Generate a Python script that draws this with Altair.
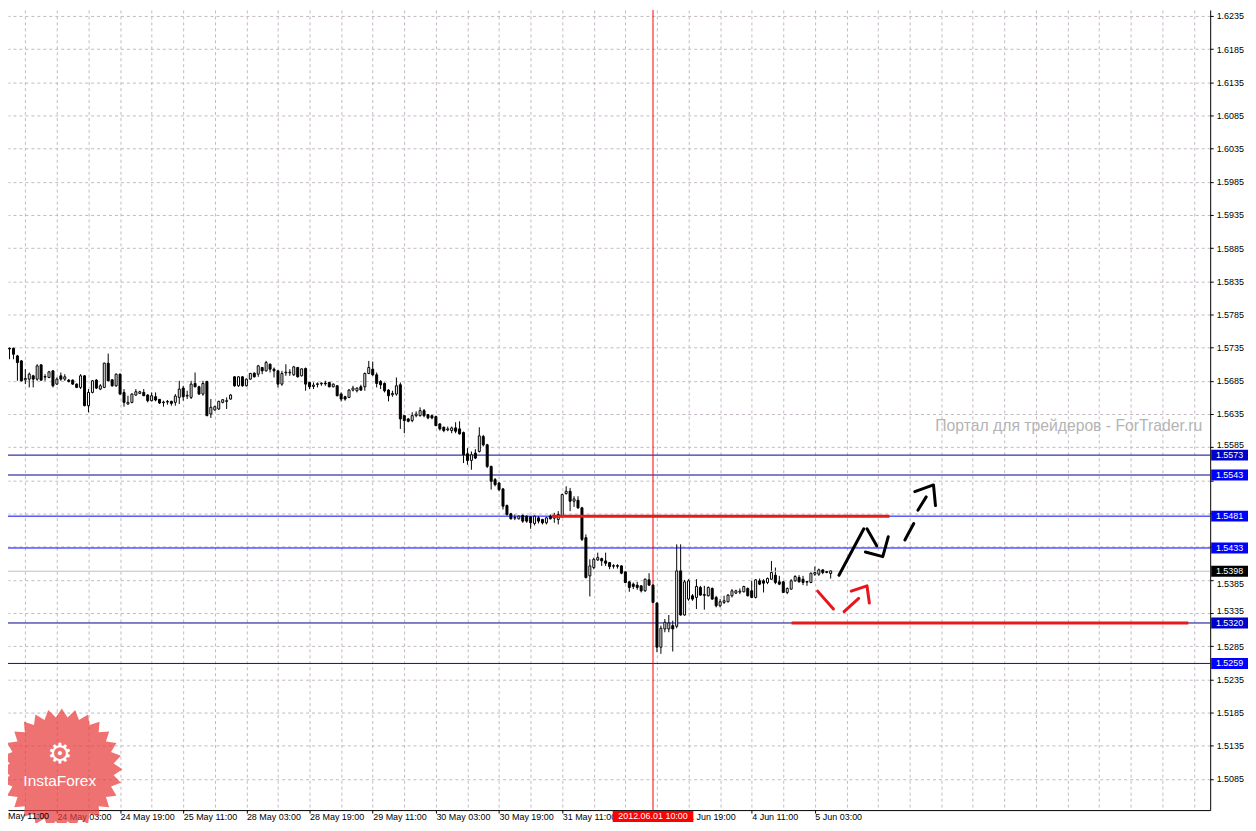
import math
import json
import altair as alt
import pandas as pd

# ---------------- data (H1 candles, bar index 0 = first visible bar) ----------------
OPEN = [
    1.57225, 1.5734, 1.5734, 1.57225, 1.5715, 1.56865, 1.56875, 1.56925, 1.56875, 1.5709,
    1.56905, 1.5690, 1.5700, 1.5680, 1.56925, 1.56875, 1.5686, 1.5686, 1.5680, 1.5675,
    1.56925, 1.56475, 1.56675, 1.5686, 1.56725, 1.5675, 1.57115, 1.56865, 1.56775, 1.5695,
    1.56675, 1.5650, 1.56525, 1.56635, 1.5666, 1.56675, 1.56635, 1.5655, 1.5661, 1.5657,
    1.5652, 1.5653, 1.5654, 1.56525, 1.5660, 1.5674, 1.5662, 1.5660, 1.5681, 1.5676,
    1.5665, 1.5684, 1.5635, 1.5641, 1.56425, 1.56525, 1.5654, 1.56575, 1.5691, 1.56775,
    1.5691, 1.56775, 1.56875, 1.56965, 1.5695, 1.5705, 1.5700, 1.5710, 1.57025, 1.5700,
    1.5680, 1.5697, 1.5697, 1.5694, 1.5705, 1.56925, 1.57035, 1.56825, 1.56765, 1.56795,
    1.56805, 1.56815, 1.56825, 1.5676, 1.56775, 1.5665, 1.5661, 1.5660, 1.5671, 1.5670,
    1.5676, 1.5676, 1.5696, 1.57025, 1.5694, 1.5684, 1.5681, 1.5671, 1.5664, 1.5665,
    1.5679, 1.56325, 1.56275, 1.5625, 1.56325, 1.56325, 1.5640, 1.5634, 1.56325, 1.5631,
    1.5620, 1.5615, 1.5611, 1.5610, 1.5614, 1.56125, 1.5607, 1.5575, 1.5565, 1.5576,
    1.55785, 1.5601, 1.55885, 1.5556, 1.5536, 1.5531, 1.5522, 1.5497, 1.54845, 1.5478,
    1.5477, 1.5482, 1.5481, 1.5480, 1.5470, 1.54785, 1.5476, 1.5471, 1.5481, 1.5478,
    1.5476, 1.5481, 1.5515, 1.55185, 1.55035, 1.5505, 1.54935, 1.54485, 1.5391, 1.54035,
    1.5415, 1.5417, 1.54135, 1.5411, 1.54055, 1.54065, 1.5406, 1.5397, 1.5382, 1.53785,
    1.5377, 1.5376, 1.53685, 1.5385, 1.5377, 1.5350, 1.52835, 1.5311, 1.5311, 1.5316,
    1.5315, 1.53985, 1.5332, 1.5356, 1.5361, 1.53585, 1.53735, 1.53615, 1.5361, 1.5372,
    1.53585, 1.5346, 1.5351, 1.5352, 1.5361, 1.5365, 1.53665, 1.5367, 1.5372, 1.53685,
    1.53585, 1.53835, 1.53835, 1.5381, 1.5386, 1.5392, 1.5382, 1.5382, 1.5366, 1.5371,
    1.53835, 1.53885, 1.5386, 1.53815, 1.5381, 1.53935, 1.53935, 1.5400, 1.5396, 1.53945,
]
HIGH = [
    1.5736, 1.5735, 1.5735, 1.5724, 1.5716, 1.57025, 1.56975, 1.5694, 1.5710, 1.5710,
    1.5695, 1.5700, 1.5701, 1.5690, 1.56975, 1.5695, 1.56875, 1.5687, 1.5681, 1.5695,
    1.56935, 1.56725, 1.5686, 1.56875, 1.5680, 1.57125, 1.5726, 1.56875, 1.5696, 1.5696,
    1.56725, 1.56625, 1.5666, 1.56725, 1.5670, 1.56725, 1.5665, 1.56675, 1.56675, 1.56575,
    1.5655, 1.5656, 1.5655, 1.5665, 1.5685, 1.56775, 1.5670, 1.5685, 1.56975, 1.56775,
    1.5685, 1.5685, 1.56575, 1.56475, 1.5655, 1.56575, 1.5660, 1.5665, 1.5692, 1.5692,
    1.5692, 1.56885, 1.5697, 1.56975, 1.5709, 1.5706, 1.5715, 1.5711, 1.5705, 1.5701,
    1.5700, 1.5710, 1.57025, 1.57075, 1.5706, 1.57035, 1.5705, 1.56835, 1.56825, 1.56825,
    1.56825, 1.5685, 1.56835, 1.5681, 1.56785, 1.56675, 1.56625, 1.56725, 1.56775, 1.5675,
    1.5679, 1.56975, 1.5715, 1.5714, 1.56975, 1.5686, 1.56825, 1.56725, 1.5670, 1.5690,
    1.56825, 1.56325, 1.5629, 1.56375, 1.5639, 1.5645, 1.56425, 1.5635, 1.5634, 1.56325,
    1.5621, 1.5616, 1.5616, 1.5616, 1.56225, 1.5624, 1.56085, 1.55835, 1.55785, 1.5582,
    1.5615, 1.56035, 1.5590, 1.5557, 1.55385, 1.5532, 1.55235, 1.54985, 1.5486, 1.54835,
    1.5482, 1.54835, 1.5482, 1.5481, 1.5482, 1.5481, 1.5477, 1.5480, 1.54835, 1.5486,
    1.54885, 1.5515, 1.5526, 1.55235, 1.5511, 1.5511, 1.5495, 1.54535, 1.5416, 1.54185,
    1.5426, 1.54185, 1.5426, 1.5412, 1.54085, 1.54085, 1.5407, 1.5398, 1.5383, 1.5381,
    1.5382, 1.5377, 1.5387, 1.5395, 1.53785, 1.5351, 1.5316, 1.5326, 1.5332, 1.53235,
    1.54385, 1.54385, 1.5385, 1.5386, 1.53635, 1.5386, 1.5376, 1.5376, 1.5375, 1.53735,
    1.5361, 1.5356, 1.5361, 1.53635, 1.5371, 1.5370, 1.5372, 1.5376, 1.53735, 1.53835,
    1.5386, 1.5387, 1.5386, 1.53885, 1.54135, 1.54035, 1.5391, 1.53835, 1.53735, 1.5386,
    1.5392, 1.5392, 1.5391, 1.53835, 1.5396, 1.5405, 1.5402, 1.5401, 1.53985, 1.53985,
]
LOW = [
    1.5721, 1.57175, 1.57175, 1.5685, 1.5684, 1.5680, 1.5675, 1.5675, 1.5685, 1.5685,
    1.5685, 1.5689, 1.5675, 1.5679, 1.5685, 1.5685, 1.56825, 1.5679, 1.5674, 1.56725,
    1.56465, 1.56375, 1.5666, 1.56725, 1.5671, 1.5674, 1.5684, 1.5676, 1.5676, 1.5664,
    1.5646, 1.5649, 1.5651, 1.56625, 1.5665, 1.5662, 1.56525, 1.5654, 1.5654, 1.5650,
    1.5646, 1.5649, 1.56475, 1.56475, 1.5650, 1.5655, 1.56575, 1.56575, 1.5675, 1.5664,
    1.56625, 1.56315, 1.5629, 1.5640, 1.5641, 1.5651, 1.56425, 1.56565, 1.5676, 1.5676,
    1.5676, 1.56765, 1.56865, 1.5690, 1.5691, 1.5695, 1.5699, 1.56975, 1.5690, 1.5675,
    1.56775, 1.56925, 1.56925, 1.56925, 1.5690, 1.56915, 1.5670, 1.56725, 1.56725, 1.5675,
    1.56775, 1.56775, 1.5675, 1.5675, 1.56615, 1.5654, 1.5655, 1.5659, 1.5669, 1.56675,
    1.5670, 1.5670, 1.5695, 1.56925, 1.5675, 1.56725, 1.56675, 1.5654, 1.5661, 1.56625,
    1.56125, 1.5606, 1.56225, 1.56225, 1.5630, 1.5631, 1.5630, 1.5627, 1.5627, 1.56165,
    1.5610, 1.56075, 1.5609, 1.5606, 1.5606, 1.5604, 1.5561, 1.55585, 1.5551, 1.5567,
    1.5577, 1.5586, 1.55535, 1.5521, 1.5526, 1.55185, 1.5491, 1.5482, 1.5476, 1.5475,
    1.5476, 1.5471, 1.5471, 1.5462, 1.5467, 1.5470, 1.54685, 1.54685, 1.5476, 1.5471,
    1.54685, 1.54785, 1.55135, 1.54885, 1.5495, 1.5492, 1.54435, 1.5387, 1.5360, 1.5401,
    1.54135, 1.5406, 1.5406, 1.5401, 1.5402, 1.5402, 1.53935, 1.5380, 1.5367, 1.5371,
    1.5370, 1.5366, 1.5367, 1.5376, 1.5350, 1.5276, 1.52735, 1.5306, 1.5306, 1.5277,
    1.5312, 1.5331, 1.5331, 1.53535, 1.53535, 1.5341, 1.5361, 1.5340, 1.5360, 1.5355,
    1.53435, 1.53435, 1.53485, 1.5351, 1.53585, 1.53635, 1.53635, 1.5366, 1.5360, 1.53575,
    1.5357, 1.5377, 1.5366, 1.53785, 1.5385, 1.53785, 1.5377, 1.5365, 1.53635, 1.5370,
    1.5382, 1.5381, 1.5377, 1.5376, 1.5380, 1.5391, 1.5391, 1.53935, 1.5395, 1.5387,
]
CLOSE = [
    1.57325, 1.5733, 1.5725, 1.57125, 1.5685, 1.56885, 1.5695, 1.56875, 1.57075, 1.5686,
    1.56915, 1.56985, 1.56775, 1.56875, 1.56875, 1.5691, 1.5684, 1.5680, 1.5675, 1.56925,
    1.56475, 1.56675, 1.5685, 1.5674, 1.56775, 1.57115, 1.5685, 1.56775, 1.5695, 1.5665,
    1.56525, 1.56525, 1.5665, 1.56685, 1.56685, 1.56625, 1.5655, 1.56625, 1.5656, 1.56515,
    1.5653, 1.5654, 1.5651, 1.5662, 1.56725, 1.5661, 1.5663, 1.5680, 1.5676, 1.5665,
    1.5681, 1.56325, 1.5645, 1.5646, 1.5654, 1.56565, 1.5655, 1.56635, 1.56775, 1.5691,
    1.56775, 1.56875, 1.5696, 1.5691, 1.57075, 1.5700, 1.57125, 1.57025, 1.5700, 1.5680,
    1.5696, 1.5698, 1.5698, 1.5706, 1.5691, 1.5703, 1.5680, 1.5676, 1.56785, 1.56805,
    1.56815, 1.56805, 1.5676, 1.5680, 1.56625, 1.56575, 1.56575, 1.5671, 1.5674, 1.5674,
    1.5671, 1.5696, 1.5705, 1.5694, 1.5681, 1.5679, 1.5670, 1.56625, 1.5666, 1.56775,
    1.56275, 1.5625, 1.5624, 1.56325, 1.5635, 1.5640, 1.56325, 1.5629, 1.5629, 1.56175,
    1.56125, 1.5610, 1.56125, 1.5614, 1.5609, 1.5605, 1.55735, 1.5565, 1.55735, 1.55685,
    1.5602, 1.55885, 1.5556, 1.55335, 1.55285, 1.5521, 1.5496, 1.54835, 1.5477, 1.5479,
    1.5481, 1.54735, 1.54735, 1.5471, 1.5481, 1.54735, 1.5471, 1.54785, 1.5477, 1.5481,
    1.54835, 1.55135, 1.55185, 1.55035, 1.5507, 1.54935, 1.5446, 1.53885, 1.5406, 1.5416,
    1.54185, 1.54135, 1.5410, 1.5405, 1.54065, 1.54055, 1.5395, 1.5381, 1.53735, 1.5375,
    1.53735, 1.53685, 1.5386, 1.5377, 1.5351, 1.52835, 1.5312, 1.5321, 1.5320, 1.5311,
    1.53985, 1.5332, 1.5382, 1.53835, 1.5356, 1.5375, 1.5362, 1.5363, 1.53735, 1.5356,
    1.5346, 1.5352, 1.53535, 1.5362, 1.53685, 1.53685, 1.5368, 1.5375, 1.5361, 1.53585,
    1.5385, 1.53785, 1.5380, 1.5387, 1.5396, 1.5381, 1.53785, 1.5366, 1.5372, 1.53835,
    1.5390, 1.5382, 1.5381, 1.53825, 1.5395, 1.5396, 1.5400, 1.5396, 1.53975, 1.53985,
]

# time axis labels (one every 16 bars, starting at bar 13); grid every 8 bars from bar 5.
# The label at "1 Jun 03:00" is hidden under the crosshair time tag, so it is left empty.
TIME_LABELS = ["24 May 03:00", "24 May 19:00", "25 May 11:00", "28 May 03:00", "28 May 19:00",
               "29 May 11:00", "30 May 03:00", "30 May 19:00", "31 May 11:00", "",
               "1 Jun 19:00", "4 Jun 11:00", "5 Jun 03:00"]
FIRST_LABEL_VISIBLE = "May 11:00"   # "23 May 11:00", cut at the left edge
LABEL_START_BAR = 13
LABEL_STEP = 16
GRID_START_BAR = 5
GRID_STEP = 8
LAST_GRID_BAR = 301

PRICE_TICKS = [1.5035, 1.5085, 1.5135, 1.5185, 1.5235, 1.5285, 1.5335, 1.5385, 1.5435,
               1.5485, 1.5535, 1.5585, 1.5635, 1.5685, 1.5735, 1.5785, 1.5835, 1.5885,
               1.5935, 1.5985, 1.6035, 1.6085, 1.6135, 1.6185, 1.6235]

# horizontal levels with price tags on the right axis
DARK_LEVELS = [1.5573, 1.5320]
DARKLINE_BRIGHTBOX_LEVELS = [1.5543]
BRIGHT_LEVELS = [1.5481, 1.5433, 1.5259]
BID = 1.5398

# crosshair
CROSSHAIR_BAR = 164
CROSSHAIR_LABEL = "2012.06.01 10:00"

# red drawn levels
RED_LEVEL_PRICES = [1.5481, 1.5320]
RED_LEVEL_START = [138.4, 199.1]
RED_LEVEL_END = [223.9, 299.6]

# hand-drawn forecast strokes (bar, price)
BLACK_STROKES = [
    [(211.1, 1.5392), (217.4, 1.5462)],
    [(218.2, 1.5462), (220.7, 1.5436)],
    [(217.8, 1.5427), (222.2, 1.5420), (223.6, 1.5450)],
    [(227.8, 1.5445), (230.05, 1.5470)],
    [(231.1, 1.5490), (233.2, 1.5510)],
    [(230.3, 1.5518), (235.05, 1.5528), (235.55, 1.5497)],
]
RED_STROKES = [
    [(205.7, 1.5368), (209.7, 1.5341)],
    [(212.4, 1.5337), (216.1, 1.5357)],
    [(214.2, 1.5368), (218.2, 1.5376), (218.8, 1.5350)],
]

WATERMARK = "Портал для трейдеров - ForTrader.ru"
LOGO_TEXT = "InstaForex"

# ---------------- layout ----------------
W, H = 1208, 804
X_DOMAIN = [1.875, 303.875]
Y_DOMAIN = [1.503798, 1.624391]
FONT = "Liberation Sans"
FS = 9
GRID = "#c4b8c4"
DARK_BLUE = "#00008b"
DARK_BOX = "#0000c8"
BLUE = "#0000ff"

xs = alt.Scale(domain=X_DOMAIN, nice=False, zero=False)
ys = alt.Scale(domain=Y_DOMAIN, nice=False, zero=False)

n = len(OPEN)
candles = pd.DataFrame({"bar": list(range(n)), "open": OPEN, "high": HIGH,
                        "low": LOW, "close": CLOSE})
candles["fill"] = ["white" if c >= o else "black" for o, c in zip(OPEN, CLOSE)]

last_label_bar = LABEL_START_BAR + LABEL_STEP * (len(TIME_LABELS) - 1)
is_label = (f"((datum.value - {LABEL_START_BAR}) % {LABEL_STEP} == 0 && "
            f"datum.value >= {LABEL_START_BAR} && datum.value <= {last_label_bar})")
label_expr = (f"{is_label} ? {json.dumps(TIME_LABELS)}"
              f"[(datum.value - {LABEL_START_BAR}) / {LABEL_STEP}] : ''")

ALL_TAGS = DARK_LEVELS + DARKLINE_BRIGHTBOX_LEVELS + BRIGHT_LEVELS + [BID]
hide_cond = " || ".join(f"abs(datum.value - {p}) < 0.0009" for p in ALL_TAGS)
above_cond = " || ".join(f"(datum.value - {p} > 0 && datum.value - {p} < 0.0017)" for p in ALL_TAGS)
below_cond = " || ".join(f"({p} - datum.value > 0 && {p} - datum.value < 0.0017)" for p in ALL_TAGS)

X_AXIS = alt.Axis(
    orient="bottom", values=list(range(GRID_START_BAR, LAST_GRID_BAR + 1, GRID_STEP)),
    grid=True, gridColor=GRID, gridDash=[3, 3], gridWidth=1,
    domain=True, domainColor="black", domainWidth=1,
    ticks=True, tickColor="black", tickSize=3, tickWidth=1,
    tickOpacity={"condition": {"test": is_label, "value": 1}, "value": 0},
    labelExpr=label_expr, labelAlign="left", labelBaseline="alphabetic",
    labelPadding=6, labelFont=FONT, labelFontSize=FS, labelColor="black",
    labelOverlap=False, labelFlush=False, labelBound=False, title=None,
)
Y_AXIS = alt.Axis(
    orient="right", values=PRICE_TICKS, format=".4f",
    grid=True, gridColor=GRID, gridDash=[3, 3], gridWidth=1,
    domain=True, domainColor="black", domainWidth=1,
    ticks=True, tickColor="black", tickSize=3, tickWidth=1,
    labelPadding=3, labelFont=FONT, labelFontSize=FS, labelColor="black",
    labelAlign="left",
    labelBaseline={"condition": [{"test": above_cond, "value": "alphabetic"},
                                 {"test": below_cond, "value": "top"}],
                   "value": "middle"},
    labelExpr=f"({hide_cond}) ? '' : format(datum.value, '.4f')",
    labelOverlap=False, labelFlush=False, labelBound=False, title=None,
)


def X(field):
    return alt.X(field, scale=xs, axis=X_AXIS, title=None)


def Y(field):
    return alt.Y(field, scale=ys, axis=Y_AXIS, title=None)


def level_frame(prices):
    return pd.DataFrame({"price": prices, "label": [f"{p:.4f}" for p in prices]})


dark_df = level_frame(DARK_LEVELS)
darkline_df = level_frame(DARKLINE_BRIGHTBOX_LEVELS)
bright_df = level_frame(BRIGHT_LEVELS)
all_levels_df = level_frame(DARK_LEVELS + DARKLINE_BRIGHTBOX_LEVELS + BRIGHT_LEVELS)
bid_df = level_frame([BID])
cross_df = pd.DataFrame({"bar": [CROSSHAIR_BAR], "label": [CROSSHAIR_LABEL]})
red_df = pd.DataFrame({"price": RED_LEVEL_PRICES, "start": RED_LEVEL_START,
                       "end": RED_LEVEL_END})

rows = []
for color, strokes in (("black", BLACK_STROKES), ("#e8141e", RED_STROKES)):
    for sid, pts in enumerate(strokes):
        for k, (b, p) in enumerate(pts):
            rows.append({"stroke": f"{color}-{sid}", "color": color, "k": k,
                         "bar": b, "price": p})
arrows_df = pd.DataFrame(rows)

# candles first so they own the axes
wicks = alt.Chart(candles).mark_rule(color="black", strokeWidth=1, clip=True).encode(
    x=X("bar:Q"), y=Y("low:Q"), y2="high:Q",
)
bodies = alt.Chart(candles).mark_bar(size=2, stroke="black", strokeWidth=1, clip=True).encode(
    x=X("bar:Q"), y=Y("open:Q"), y2="close:Q",
    fill=alt.Fill("fill:N", scale=None),
)
dark_lines = alt.Chart(pd.concat([dark_df, darkline_df])).mark_rule(
    strokeWidth=1, color=DARK_BLUE).encode(y=Y("price:Q"))
bright_lines = alt.Chart(bright_df).mark_rule(strokeWidth=1, color=BLUE).encode(y=Y("price:Q"))
bid_line = alt.Chart(bid_df).mark_rule(strokeWidth=1, color="#c0c0c0").encode(y=Y("price:Q"))
cross_line = alt.Chart(cross_df).mark_rule(strokeWidth=1, color="#ff0000").encode(x=X("bar:Q"))
red_levels = alt.Chart(red_df).mark_rule(strokeWidth=3, color="#e41b1b").encode(
    x=X("start:Q"), x2="end:Q", y=Y("price:Q"),
)
arrows = alt.Chart(arrows_df).mark_line(strokeWidth=3, strokeCap="round",
                                        strokeJoin="round").encode(
    x=X("bar:Q"), y=Y("price:Q"),
    detail="stroke:N", order="k:Q",
    color=alt.Color("color:N", scale=None),
)
watermark = alt.Chart(pd.DataFrame({"t": [WATERMARK]})).mark_text(
    font=FONT, fontSize=15.8, color="#b4b4b4", align="right", baseline="alphabetic",
).encode(x=alt.value(W - 8), y=alt.value(423), text="t:N")

# InstaForex badge
N_SPIKES = 28
pts = []
for k in range(2 * N_SPIKES):
    r = 1.0 if k % 2 == 0 else 0.86
    a = math.pi * k / N_SPIKES - math.pi / 2
    pts.append(f"{r * math.cos(a):.4f},{r * math.sin(a):.4f}")
STAR = "M" + " L".join(pts) + " Z"
logo_df = pd.DataFrame({"t": [LOGO_TEXT], "g": ["\u2699"]})
logo_star = alt.Chart(logo_df).mark_point(
    shape=STAR, size=122 * 122, filled=True, color="#e83c3c", opacity=0.72, strokeWidth=0,
).encode(x=alt.value(54), y=alt.value(763))
logo_gear = alt.Chart(logo_df).mark_text(
    font="DejaVu Sans", fontSize=28, color="white", align="center", baseline="middle",
).encode(x=alt.value(52), y=alt.value(749), text="g:N")
logo_text = alt.Chart(logo_df).mark_text(
    font=FONT, fontSize=15.5, color="white", align="center", baseline="middle",
).encode(x=alt.value(52), y=alt.value(775), text="t:N")

first_label = alt.Chart(pd.DataFrame({"t": [FIRST_LABEL_VISIBLE]})).mark_text(
    font=FONT, fontSize=FS, color="black", align="left", baseline="alphabetic",
).encode(x=alt.value(0), y=alt.value(H + 9), text="t:N")


def tag_box(df, color, right=W + 38):
    return alt.Chart(df).mark_rule(strokeWidth=11, strokeCap="butt", color=color).encode(
        y=Y("price:Q"), x=alt.value(W + 1), x2=alt.value(right))


dark_boxes = tag_box(dark_df, DARK_BOX)
bright_boxes = tag_box(pd.concat([darkline_df, bright_df]), BLUE)
bid_box = tag_box(bid_df, "black", right=W + 40)
tag_text = alt.Chart(pd.concat([all_levels_df, bid_df])).mark_text(
    font=FONT, fontSize=FS, color="white", align="center", baseline="middle",
).encode(y=Y("price:Q"), x=alt.value(W + 19.5), text="label:N")

cross_box = alt.Chart(cross_df).mark_rule(strokeWidth=81, strokeCap="butt", color="#ff0000").encode(
    x=X("bar:Q"), y=alt.value(H + 1), y2=alt.value(H + 12),
)
cross_text = alt.Chart(cross_df).mark_text(
    font=FONT, fontSize=FS, color="white", align="center", baseline="alphabetic",
).encode(x=X("bar:Q"), y=alt.value(H + 9), text="label:N")

chart = alt.layer(
    wicks, dark_lines, bright_lines, bid_line, cross_line, bodies, red_levels, arrows,
    watermark, logo_star, logo_gear, logo_text, first_label,
    dark_boxes, bright_boxes, bid_box, tag_text, cross_box, cross_text,
).properties(
    width=W, height=H,
    padding={"left": 0, "top": 0, "right": 38, "bottom": 11},
    autosize=alt.AutoSizeParams(type="none"),
    background="white",
).configure_view(stroke=None)

chart.save("out.html", embed_options={"renderer": "svg", "actions": False})
